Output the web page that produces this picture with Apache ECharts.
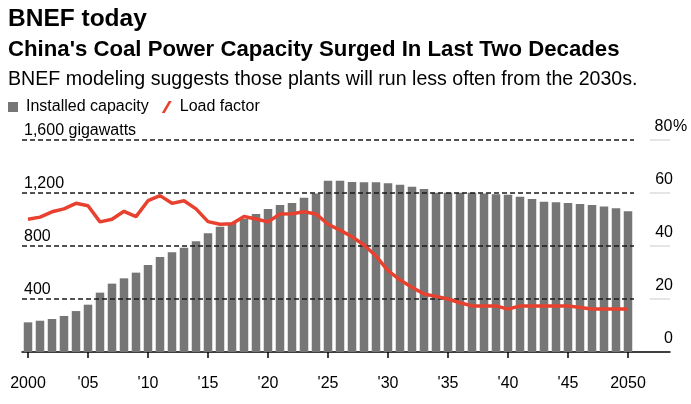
<!DOCTYPE html>
<html>
<head>
<meta charset="utf-8">
<script src="https://cdn.jsdelivr.net/npm/echarts@6/dist/echarts.min.js"></script>
<style>
html, body { margin: 0; padding: 0; background: #fff; }
#charts { width: 691px; height: 404px; }
</style>
</head>
<body>
<div id="charts"></div>
<script>
var myChart = echarts.init(document.getElementById('charts'));
var font = '"Liberation Sans", Arial, sans-serif';

// 2000 .. 2050
var firstYear = 2000, lastYear = 2050;
var capacity = [224, 236, 249, 272, 309, 357, 448, 516, 556, 599,
	657, 717, 752, 787, 835, 896, 946, 976, 1004, 1041,
	1079, 1109, 1125, 1165, 1197, 1293, 1293, 1283, 1281, 1281,
	1273, 1263, 1248, 1230, 1202, 1202, 1202, 1202, 1197, 1190,
	1187, 1172, 1155, 1134, 1130, 1125, 1117, 1109, 1099, 1084, 1062];
var loadFactor = [50.1, 50.9, 52.9, 54.0, 56.1, 55.2, 49.1, 50.1, 53.1, 51.1,
	57.1, 59.0, 56.1, 57.1, 54.0, 49.2, 48.2, 48.4, 51.1, 50.2,
	49.1, 52.1, 52.2, 52.9, 52.1, 48.2, 46.0, 43.5, 40.4, 36.2,
	30.7, 27.2, 24.4, 21.9, 21.0, 20.0, 18.6, 17.4, 17.4, 17.4,
	16.2, 17.4, 17.4, 17.4, 17.4, 17.4, 16.8, 16.2, 16.2, 16.2, 16.2];
var xTicks = [2000, 2005, 2010, 2015, 2020, 2025, 2030, 2035, 2040, 2045, 2050];
var gwTicks = [400, 800, 1200, 1600];

var capData = capacity.map(function(v, i){ return [firstYear + i, v]; });
var lfData = loadFactor.map(function(v, i){ return [firstYear + i, v]; });

// dashed guides across the bars, plus a short grey stub under the right-hand labels
var guides = [];
gwTicks.forEach(function(v){
	guides.push([{coord: [firstYear - 0.5, v]}, {coord: [lastYear + 0.5, v]}]);
	guides.push([
		{coord: [lastYear + 1.8, v], lineStyle: {color: '#dcdcdc', type: 'solid', width: 1.5}},
		{coord: [lastYear + 3.5, v]}
	]);
});

var option = {
	animation: false,
	textStyle: {fontFamily: font},
	title: [
		{text: 'BNEF today', left: 3, top: 2,
			textStyle: {fontSize: 24.5, fontWeight: 'bold', color: '#000', fontFamily: font}},
		{text: "China's Coal Power Capacity Surged In Last Two Decades", left: 3, top: 34,
			textStyle: {fontSize: 22.2, fontWeight: 'bold', color: '#000', fontFamily: font}},
		{text: 'BNEF modeling suggests those plants will run less often from the 2030s.', left: 3, top: 65,
			textStyle: {fontSize: 19.6, fontWeight: 'normal', color: '#000', fontFamily: font}}
	],
	legend: {
		left: 3, top: 94,
		itemGap: 13,
		itemWidth: 10, itemHeight: 12,
		textStyle: {fontSize: 16, color: '#000', fontFamily: font, padding: [0, 0, 0, 3]},
		data: [
			{name: 'Installed capacity', icon: 'path://M0,0L10,0L10,10L0,10Z'},
			{name: 'Load factor', icon: 'path://M0,12L3,12L10,0L7,0Z'}
		]
	},
	grid: {left: 22, right: 21, top: 140, bottom: 52, containLabel: false},
	xAxis: {
		type: 'value',
		min: firstYear - 0.5,
		max: lastYear + 3.5,
		splitLine: {show: false},
		axisLine: {show: true, onZero: false, lineStyle: {color: '#000', width: 1.5}},
		axisTick: {show: true, length: 6, customValues: xTicks, lineStyle: {color: '#000', width: 1.5}},
		axisLabel: {
			customValues: xTicks,
			margin: 24,
			fontSize: 16, color: '#000', fontFamily: font,
			formatter: function(v){
				if(v == firstYear || v == lastYear){
					return '' + v;
				}
				return "'" + ('' + v).substr(2, 2);
			}
		}
	},
	yAxis: [
		{
			type: 'value', min: 0, max: 1600, interval: 400,
			splitLine: {show: false},
			axisLine: {show: false}, axisTick: {show: false},
			axisLabel: {
				inside: true, margin: 2,
				verticalAlign: 'bottom', padding: [0, 0, 1, 0],
				fontSize: 16, color: '#000', fontFamily: font,
				formatter: function(v){
					if(v == 0){ return ''; }
					var s = echarts.format.addCommas(v);
					return v == 1600 ? s + ' gigawatts' : s;
				}
			}
		},
		{
			type: 'value', min: 0, max: 80, interval: 20,
			position: 'right', offset: -16,
			splitLine: {show: false},
			axisLine: {show: false}, axisTick: {show: false},
			axisLabel: {
				margin: 0, align: 'left',
				verticalAlign: 'bottom', padding: [0, 0, 5, 0],
				formatter: function(v){
					return v == 80 ? '{n|' + v + '}{p|%}' : '{n|' + v + '}';
				},
				rich: {
					n: {width: 19, align: 'right', fontSize: 16, color: '#000', fontFamily: font},
					p: {fontSize: 16, color: '#000', fontFamily: font}
				}
			}
		}
	],
	series: [
		{
			name: 'Installed capacity',
			type: 'bar',
			barWidth: 8.5,
			itemStyle: {color: '#767676'},
			data: capData,
			markLine: {
				silent: true, symbol: 'none', z: 3,
				label: {show: false},
				lineStyle: {color: '#1a1a1a', type: [5, 3], width: 1.5},
				data: guides
			}
		},
		{
			name: 'Load factor',
			type: 'line',
			yAxisIndex: 1,
			z: 10,
			symbol: 'none',
			smooth: false,
			lineStyle: {color: '#e8412f', width: 3.5},
			itemStyle: {color: '#e8412f'},
			data: lfData
		}
	]
};

myChart.setOption(option);
</script>
</body>
</html>
